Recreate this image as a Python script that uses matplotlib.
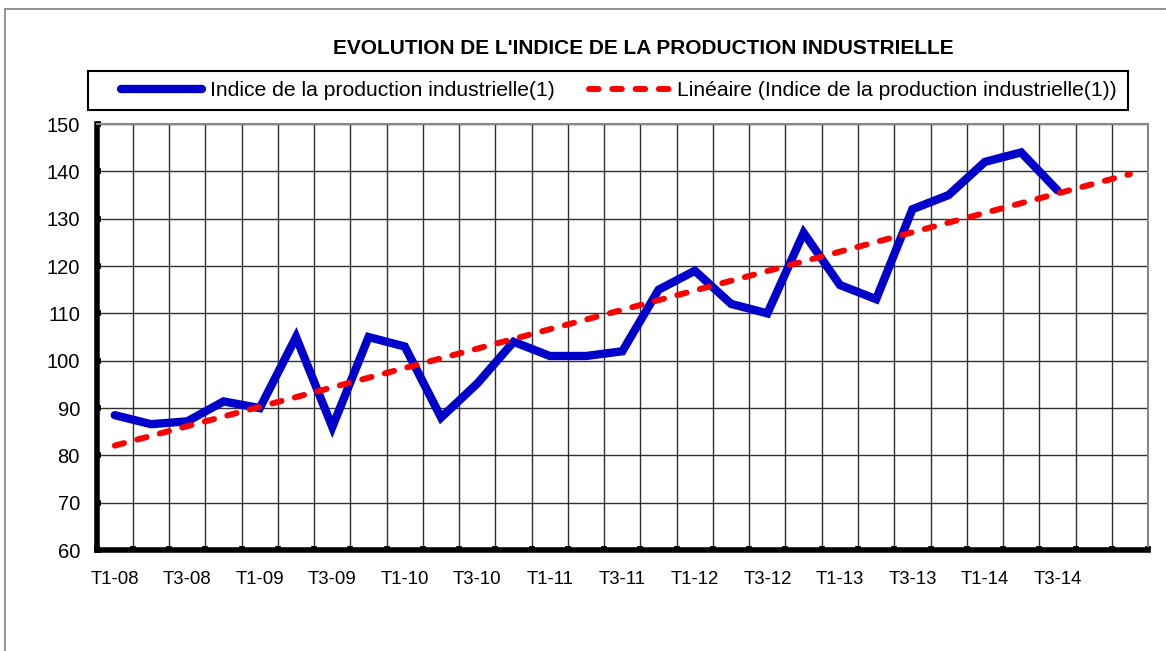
import numpy as np
import matplotlib
matplotlib.use("Agg")
import matplotlib.pyplot as plt
from matplotlib.patches import Rectangle

plt.rcParams['font.family'] = ['Liberation Sans', 'DejaVu Sans']

# trimestres T1-08 .. T1-15 (l'axe va un an plus loin que les données)
categories = ['T1-08', 'T2-08', 'T3-08', 'T4-08', 'T1-09', 'T2-09', 'T3-09', 'T4-09',
              'T1-10', 'T2-10', 'T3-10', 'T4-10', 'T1-11', 'T2-11', 'T3-11', 'T4-11',
              'T1-12', 'T2-12', 'T3-12', 'T4-12', 'T1-13', 'T2-13', 'T3-13', 'T4-13',
              'T1-14', 'T2-14', 'T3-14', 'T4-14', 'T1-15']
indice = [88.5, 86.6, 87.2, 91.4, 90.0, 105.0, 86.0, 105.0, 103.0, 88.0, 95.2, 104.0,
          101.0, 101.0, 102.0, 115.0, 119.0, 112.0, 110.0, 127.0, 116.0, 113.0, 132.0,
          135.0, 142.0, 144.0, 136.0]
tick_labels = categories[:27:2]
prevision = 2  # périodes de prolongation de la tendance

fig = plt.figure(figsize=(11.66, 6.51), dpi=100)
ax = fig.add_axes([0.0829, 0.155, 0.9017, 0.6545])

# cadre du graphique
fig.patches.append(Rectangle((5 / 1166, -0.01), 1.2, 1 - 9 / 651 + 0.01, transform=fig.transFigure,
                             fill=False, ec='#808080', lw=1.2))

x = np.arange(len(indice))
ax.plot(x, indice, color='#0000CC', lw=6, solid_joinstyle='miter', solid_capstyle='round',
        label='Indice de la production industrielle(1)', zorder=3)

# courbe de tendance linéaire (régression sur les données)
a, b = np.polyfit(x, indice, 1)
xt = np.arange(len(indice) + prevision)
ax.plot(xt, a * xt + b, color='#FF0000', lw=4.3, dashes=(1.6, 2.3), dash_capstyle='round',
        label='Linéaire (Indice de la production industrielle(1))', zorder=4)

ax.set_xlim(-0.5, len(categories) - 0.5)
ax.set_ylim(60, 150)
ax.set_yticks(np.arange(60, 151, 10))
ax.tick_params(axis='y', direction='in', length=3, width=4, labelsize=14.5, pad=12)

ax.set_xticks(np.arange(len(categories) + 1) - 0.5, minor=False)
ax.set_xticklabels([])
ax.set_xticks(np.arange(0, 27, 2), minor=True)
ax.set_xticklabels(tick_labels, minor=True)
ax.tick_params(axis='x', which='major', direction='in', length=3, width=4)
ax.tick_params(axis='x', which='minor', length=0, labelsize=13.4, pad=15)

ax.grid(True, which='major', color='#303030', lw=1)
ax.set_axisbelow(True)
for s in ['top', 'right']:
    ax.spines[s].set_color('#888888')
    ax.spines[s].set_linewidth(1.5)
for s in ['left', 'bottom']:
    ax.spines[s].set_color('black')
    ax.spines[s].set_linewidth(4)

fig.text(0.5515, 1 - 48 / 651, "EVOLUTION DE L'INDICE DE LA PRODUCTION INDUSTRIELLE",
         ha='center', va='center', fontsize=15, fontweight='bold')

# légende encadrée
fig.patches.append(Rectangle((88 / 1166, 1 - 110 / 651), 1040 / 1166, 39 / 651,
                             transform=fig.transFigure, fill=False, ec='black', lw=1.5))
fig.legend(loc='center', bbox_to_anchor=(0.531, 1 - 90.5 / 651), ncol=2, frameon=False,
           fontsize=15.2, handlelength=3.8, handletextpad=0.4, columnspacing=1.6)

fig.savefig('out.png', dpi=100)
